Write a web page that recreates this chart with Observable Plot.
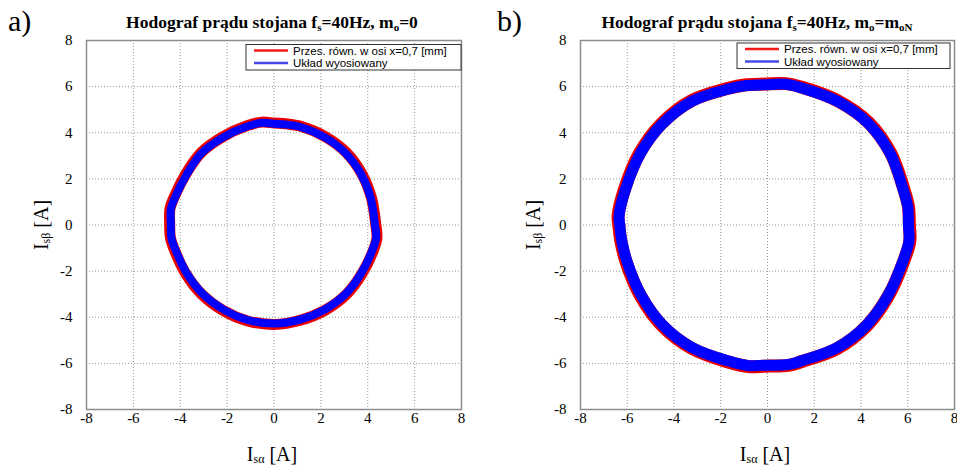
<!DOCTYPE html>
<html><head><meta charset="utf-8">
<script src="https://cdn.jsdelivr.net/npm/d3@7"></script>
<script src="https://cdn.jsdelivr.net/npm/@observablehq/plot@0.6"></script>
<style>
body{margin:0;background:#fff;}
#wrap{position:relative;width:957px;height:465px;overflow:hidden;}
#wrap svg{position:absolute;top:0;overflow:visible;}
</style>
</head><body>
<div id="wrap"></div>
<script>
// tick values
const ticks = [-8, -6, -4, -2, 0, 2, 4, 6, 8];
const gridVals = [-6, -4, -2, 0, 2, 4, 6];

// Panel a) – red: "Przes. równ. w osi x=0,7 [mm]", blue: "Układ wyosiowany"
const aRedX  = [4.34, 4.16, 3.75, 3.09, 2.19, 1.14, 0.5, 0.01, -0.52, -1.15, -2.2, -3.1, -3.76, -4.27, -4.44, -4.45, -4.42, -4.24, -3.76, -3.07, -2.17, -1.13, 0, 1.12, 2.17, 3.08, 3.75, 4.24, 4.39];
const aRedY  = [0.05, 1.17, 2.22, 3.14, 3.83, 4.28, 4.39, 4.42, 4.46, 4.31, 3.82, 3.15, 2.22, 1.19, 0.7, 0.05, -0.55, -1.1, -2.12, -3.02, -3.71, -4.16, -4.31, -4.13, -3.70, -3.02, -2.12, -1.1, -0.56];
const aBlueX = [4.30, 4.13, 3.72, 3.06, 2.17, 1.13, 0.5, 0.0, -0.5, -1.13, -2.17, -3.08, -3.72, -4.23, -4.40, -4.40, -4.38, -4.20, -3.72, -3.04, -2.15, -1.12, 0, 1.11, 2.15, 3.05, 3.72, 4.20, 4.36];
const aBlueY = [0.05, 1.16, 2.20, 3.11, 3.80, 4.25, 4.36, 4.39, 4.43, 4.28, 3.80, 3.13, 2.20, 1.18, 0.7, 0.05, -0.55, -1.08, -2.10, -2.99, -3.67, -4.12, -4.27, -4.10, -3.67, -3.00, -2.10, -1.08, -0.55];

// Panel b)
const bRedX  = [6.07, 6.03, 5.82, 5.27, 4.33, 3.0, 1.48, 0.8, -0.12, -0.9, -1.72, -3.24, -4.53, -5.48, -6.1, -6.39, -6.36, -6.29, -6.05, -5.43, -4.5, -3.22, -1.71, -0.8, -0.12, 0.9, 1.47, 2.98, 4.25, 5.18, 5.82, 6.09];
const bRedY  = [0, 0.8, 1.6, 3.12, 4.44, 5.39, 5.97, 6.13, 6.11, 6.08, 5.92, 5.4, 4.4, 3.1, 1.6, 0.4, 0, -0.6, -1.6, -3.08, -4.38, -5.36, -5.93, -6.14, -6.12, -6.09, -5.92, -5.36, -4.37, -3.06, -1.59, -0.7];
const bBlueX = [6.03, 6.0, 5.79, 5.25, 4.30, 2.98, 1.47, 0.8, -0.12, -0.9, -1.70, -3.22, -4.50, -5.45, -6.06, -6.35, -6.32, -6.25, -6.01, -5.40, -4.47, -3.20, -1.70, -0.8, -0.12, 0.9, 1.46, 2.96, 4.23, 5.16, 5.79, 6.05];
const bBlueY = [0, 0.8, 1.59, 3.10, 4.42, 5.37, 5.94, 6.1, 6.08, 6.05, 5.89, 5.37, 4.38, 3.08, 1.59, 0.4, 0, -0.6, -1.58, -3.05, -4.35, -5.33, -5.89, -6.1, -6.08, -6.05, -5.89, -5.33, -4.35, -3.05, -1.58, -0.7];

const legendLabels = ["Przes. równ. w osi x=0,7 [mm]", "Układ wyosiowany"];

const serif = "'Liberation Serif', 'Times New Roman', serif";
const fmt = d => String(d);

function panel(o) {
  const red = o.redX.map((x, i) => ({x, y: o.redY[i]}));
  const blue = o.blueX.map((x, i) => ({x, y: o.blueY[i]}));
  const svg = Plot.plot({
    width: o.width, height: 465,
    marginLeft: o.ml, marginRight: o.mr, marginTop: 40, marginBottom: 56,
    style: {fontFamily: serif, fontSize: "15px", color: "#000", background: "transparent"},
    x: {domain: [-8, 8], ticks: ticks, label: null},
    y: {domain: [-8, 8], ticks: ticks, label: null},
    marks: [
      Plot.ruleX(gridVals, {stroke: "#999", strokeDasharray: "1,2", strokeWidth: 1}),
      Plot.ruleY(gridVals, {stroke: "#999", strokeDasharray: "1,2", strokeWidth: 1}),
      Plot.line(red, {x: "x", y: "y", stroke: "#e80000", strokeWidth: o.redW, curve: "catmull-rom-closed", strokeLinejoin: "round"}),
      Plot.line(blue, {x: "x", y: "y", stroke: "#0000ff", strokeWidth: o.blueW, curve: "catmull-rom-closed", strokeLinejoin: "round"}),
      Plot.axisX({ticks: ticks, tickFormat: fmt, tickSize: 0, tickPadding: 3, label: null, fontSize: 15, fontFamily: serif}),
      Plot.axisY({ticks: ticks, tickFormat: fmt, tickSize: 0, tickPadding: 14, label: null, fontSize: 15, fontFamily: serif}),
      Plot.frame({stroke: "#8c8c8c", strokeWidth: 1.5})
    ]
  });
  svg.style.left = o.left + "px";
  const s = d3.select(svg);
  // force serif on tick labels
  s.selectAll("text").style("font-family", serif).style("font-size", "15px");
  // panel letter
  s.append("text").attr("x", o.letterX).attr("y", 31).attr("text-anchor", "start")
    .attr("font-family", serif).attr("font-size", 30).attr("fill", "#000").text(o.letter);
  // title
  const t = s.append("text").attr("x", o.titleX).attr("y", 28).attr("text-anchor", "middle")
    .attr("font-family", serif).attr("font-size", 17.5).attr("font-weight", "bold").attr("fill", "#000");
  t.append("tspan").text("Hodograf prądu stojana f");
  t.append("tspan").attr("font-size", 11).attr("dy", 3).text("s");
  t.append("tspan").attr("dy", -3).text("=40Hz, m");
  t.append("tspan").attr("font-size", 11).attr("dy", 3).text("o");
  if (o.moN) {
    t.append("tspan").attr("dy", -3).text("=m");
    t.append("tspan").attr("font-size", 11).attr("dy", 3).text("oN");
  } else {
    t.append("tspan").attr("dy", -3).text("=0");
  }
  // x label
  const xl = s.append("text").attr("x", o.xlabX).attr("y", 461).attr("text-anchor", "middle")
    .attr("font-family", serif).attr("font-size", 20).attr("fill", "#000");
  xl.append("tspan").text("I");
  xl.append("tspan").attr("font-size", 12).attr("dy", 2).text("sα");
  xl.append("tspan").attr("dy", -2).text(" [A]");
  // y label
  const yl = s.append("text").attr("transform", `translate(${o.ylabX},225) rotate(-90)`).attr("text-anchor", "middle")
    .attr("font-family", serif).attr("font-size", 20).attr("fill", "#000");
  yl.append("tspan").text("I");
  yl.append("tspan").attr("font-size", 12).attr("dy", 2).text("sβ");
  yl.append("tspan").attr("dy", -2).text(" [A]");
  // legend
  const g = s.append("g").attr("font-family", "'Liberation Sans', Arial, sans-serif").attr("font-size", 11.5);
  g.append("rect").attr("x", o.lgX).attr("y", o.lgY).attr("width", o.lgW).attr("height", 25.5)
    .attr("fill", "#fff").attr("stroke", "#333").attr("stroke-width", 1);
  const cols = ["#f01818", "#4848e8"];
  [0, 1].forEach(i => {
    const yy = o.lgY + 6 + i * 12.5;
    g.append("line").attr("x1", o.lgX + 8).attr("x2", o.lgX + 42).attr("y1", yy).attr("y2", yy)
      .attr("stroke", cols[i]).attr("stroke-width", 2.5);
    g.append("text").attr("x", o.lgX + 47).attr("y", yy + 4).attr("text-anchor", "start")
      .attr("fill", "#000").text(legendLabels[i]);
  });
  document.getElementById("wrap").appendChild(svg);
}

panel({redX: aRedX, redY: aRedY, blueX: aBlueX, blueY: aBlueY, width: 478, left: 0, ml: 86, mr: 17, redW: 11, blueW: 8,
  letter: "a)", letterX: 8, titleX: 272, xlabX: 272, ylabX: 48, lgX: 246, lgY: 44.5, lgW: 215, moN: false});
panel({redX: bRedX, redY: bRedY, blueX: bBlueX, blueY: bBlueY, width: 479, left: 478, ml: 102, mr: 3, redW: 13, blueW: 11,
  letter: "b)", letterX: 19, titleX: 279, xlabX: 287, ylabX: 62, lgX: 259, lgY: 43, lgW: 213, moN: true});
</script>
</body></html>
